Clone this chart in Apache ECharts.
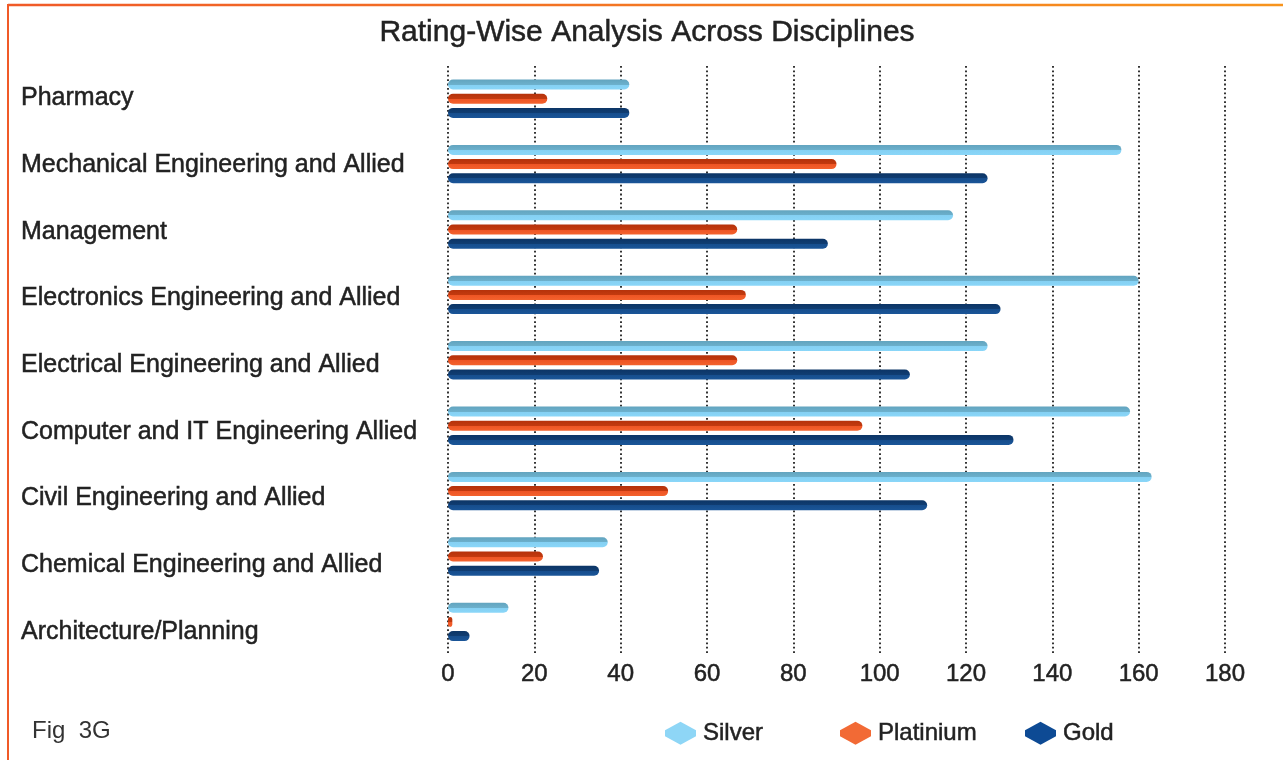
<!DOCTYPE html>
<html>
<head>
<meta charset="utf-8">
<script src="https://cdn.jsdelivr.net/npm/echarts@6/dist/echarts.min.js"></script>
<style>
html,body{margin:0;padding:0;background:#fff;}
#chart{width:1283px;height:760px;}
</style>
</head>
<body>
<div id="chart"></div>
<script>
// ---- data ----
const categories = [
  'Pharmacy',
  'Mechanical Engineering and Allied',
  'Management',
  'Electronics Engineering and Allied',
  'Electrical Engineering and Allied',
  'Computer and IT Engineering Allied',
  'Civil Engineering and Allied',
  'Chemical Engineering and Allied',
  'Architecture/Planning'
];
const seriesNames = ['Silver', 'Platinium', 'Gold'];
const silver    = [42, 156, 117, 160, 125, 158, 163, 37, 14];
const platinium = [23,  90,  67,  69,  67,  96,  51, 22,  1];
const gold      = [42, 125,  88, 128, 107, 131, 111, 35,  5];
const xTicks = { min: 0, max: 180, interval: 20 };

const FONT = "'Liberation Sans', Arial, Helvetica, sans-serif";
const TEXT = '#222222';
const heavy = { textBorderColor: TEXT, textBorderWidth: 0.5 };

function grad(top, mid1, mid2, bottom) {
  return new echarts.graphic.LinearGradient(0, 0, 0, 1, [
    { offset: 0, color: top },
    { offset: 0.5, color: mid1 },
    { offset: 0.5, color: mid2 },
    { offset: 1, color: bottom }
  ]);
}
const styles = [
  { fill: grad('#62a4bf', '#6cb0cc', '#84d0f3', '#8ad6f8'), legend: '#8ed6f6' },
  { fill: grad('#b5320b', '#c33a0f', '#ee5424', '#f3622d'), legend: '#f26a35' },
  { fill: grad('#0c3566', '#103d72', '#164d8c', '#1a5598'), legend: '#0d4a94' }
];
const values = [silver, platinium, gold];

const boxIcon = 'path://M15.5 0 L31 8.5 L31 14.5 L15.5 23 L0 14.5 L0 8.5 Z';
const legendLefts = [665, 840, 1025];

const chart = echarts.init(document.getElementById('chart'), null, { renderer: 'canvas' });
chart.setOption({
  backgroundColor: '#ffffff',
  animation: false,
  textStyle: { fontFamily: FONT },
  grid: [
    { left: 448, right: 58, top: 66, height: 588.6 },
    { left: 448, right: 58, top: 65.2, height: 600 }
  ],
  xAxis: [
    {
      type: 'value', gridIndex: 0,
      min: xTicks.min, max: xTicks.max, interval: xTicks.interval,
      axisLine: { show: false }, axisTick: { show: false },
      axisLabel: Object.assign({ fontSize: 24, color: TEXT, margin: 8, fontFamily: FONT }, heavy),
      splitLine: { show: true, lineStyle: { color: '#1e1e1e', width: 1.8, type: [1.8, 2.6] } }
    },
    { type: 'value', gridIndex: 1, show: false, min: 0, max: 180 }
  ],
  yAxis: [
    {
      type: 'category', gridIndex: 0, data: categories, inverse: true,
      axisLine: { show: false }, axisTick: { show: false }, axisLabel: { show: false },
      splitLine: { show: false }
    },
    {
      type: 'category', gridIndex: 1, data: categories, inverse: true,
      axisLine: { show: false }, axisTick: { show: false },
      axisLabel: Object.assign({ show: true, align: 'left', margin: 427, fontSize: 25, color: TEXT, fontFamily: FONT }, heavy)
    }
  ],
  legend: seriesNames.map((n, i) => ({
    left: legendLefts[i], top: 721, padding: 0,
    itemWidth: 31, itemHeight: 23, itemGap: 0,
    selectedMode: false,
    textStyle: Object.assign({ fontSize: 24, color: TEXT, fontFamily: FONT, padding: [0, 0, 0, 2] }, heavy),
    data: [{ name: n, icon: boxIcon, itemStyle: { color: styles[i].legend } }]
  })),
  series: seriesNames.map((n, i) => ({
    name: n, type: 'bar', xAxisIndex: 0, yAxisIndex: 0,
    data: values[i],
    barWidth: 10, barGap: '42%',
    itemStyle: { color: styles[i].fill, borderRadius: 5 }
  })),
  graphic: [
    {
      type: 'line', silent: true,
      shape: { x1: 8, y1: 5, x2: 1283, y2: 5 },
      style: {
        lineWidth: 2.5,
        stroke: new echarts.graphic.LinearGradient(0, 0, 1, 0, [
          { offset: 0, color: '#f05a28' }, { offset: 1, color: '#f7941d' }
        ])
      }
    },
    {
      type: 'line', silent: true,
      shape: { x1: 8, y1: 4, x2: 8, y2: 760 },
      style: { lineWidth: 2, stroke: '#f05a28' }
    },
    {
      type: 'text', silent: true, x: 647, y: 33,
      style: Object.assign({ text: 'Rating-Wise Analysis Across Disciplines', fontSize: 30, fill: TEXT,
               fontFamily: FONT, align: 'center', verticalAlign: 'middle' }, { stroke: TEXT, lineWidth: 0.5 })
    },
    {
      type: 'text', silent: true, x: 32, y: 731,
      style: { text: 'Fig  3G', fontSize: 24, fill: '#333', fontFamily: FONT,
               align: 'left', verticalAlign: 'middle' }
    }
  ]
});
</script>
</body>
</html>
